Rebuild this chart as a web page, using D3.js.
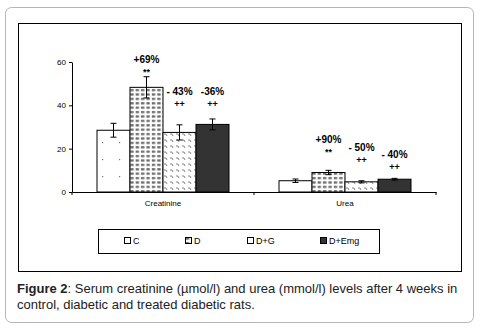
<!DOCTYPE html>
<html>
<head>
<meta charset="utf-8">
<script src="https://cdn.jsdelivr.net/npm/d3@7"></script>
<style>
  body { margin: 0; background: #fff; }
  svg { display: block; font-family: "Liberation Sans", Arial, sans-serif; }
</style>
</head>
<body>
<svg id="chart" width="480" height="328"></svg>
<script>
const groups = ["Creatinine", "Urea"];
const treatments = ["C", "D", "D+G", "D+Emg"];
const creatinine = [28.5, 48.3, 27.5, 31.2];
const creatinineErr = [3.2, 4.9, 3.5, 2.5];
const urea = [5.2, 9.0, 4.7, 5.9];
const ureaErr = [0.8, 1.0, 0.5, 0.4];
const creatinineNotes = [null, ["+69%", "**"], ["- 43%", "++"], ["-36%", "++"]];
const ureaNotes = [null, ["+90%", "**"], ["- 50%", "++"], ["- 40%", "++"]];
const yTicks = [0, 20, 40, 60];

(function() {
  const INK = "#000";
  const svg = d3.select("#chart");

  // patterns
  const defs = svg.append("defs");
  const pC = defs.append("pattern").attr("id", "pat-C").attr("patternUnits", "userSpaceOnUse")
    .attr("width", 17).attr("height", 17);
  pC.append("rect").attr("width", 17).attr("height", 17).attr("fill", "#fff");
  pC.append("rect").attr("x", 5).attr("y", 6).attr("width", 1.2).attr("height", 1.2).attr("fill", "#777");

  const pD = defs.append("pattern").attr("id", "pat-D").attr("patternUnits", "userSpaceOnUse")
    .attr("width", 5.4).attr("height", 4.4);
  pD.append("rect").attr("width", 5.4).attr("height", 4.4).attr("fill", "#fff");
  pD.append("rect").attr("x", 0.8).attr("y", 1).attr("width", 3.4).attr("height", 2.2).attr("fill", "#6a6a6a");

  const pG = defs.append("pattern").attr("id", "pat-G").attr("patternUnits", "userSpaceOnUse")
    .attr("width", 6).attr("height", 6);
  pG.append("rect").attr("width", 6).attr("height", 6).attr("fill", "#fff");
  pG.append("path").attr("d", "M1,2 L3,2 L4,4").attr("stroke", "#777").attr("stroke-width", 0.9).attr("fill", "none");

  const fills = ["url(#pat-C)", "url(#pat-D)", "url(#pat-G)", "#333333"];

  // outer rounded frame
  svg.append("rect").attr("x", 5.5).attr("y", 7.5).attr("width", 468).attr("height", 315)
    .attr("rx", 6).attr("fill", "#fff").attr("stroke", "#b5b5b5").attr("stroke-width", 1);

  // chart frame
  svg.append("rect").attr("x", 18.5).attr("y", 23.5).attr("width", 443).attr("height", 248)
    .attr("fill", "#fff").attr("stroke", INK).attr("stroke-width", 1);

  const x0 = d3.scaleBand().domain(groups).range([72, 436]);
  const x1 = d3.scaleBand().domain(treatments).range([0, 132]);
  const y = d3.scaleLinear().domain([0, 60]).range([192, 62]);
  const off = (x0.bandwidth() - x1.range()[1]) / 2;

  // y axis
  svg.append("g").attr("transform", "translate(72,0)")
    .call(d3.axisLeft(y).tickValues(yTicks).tickSize(3).tickSizeOuter(0))
    .call(g => g.select(".domain").attr("stroke", INK))
    .call(g => g.selectAll("text").attr("font-size", 8).attr("font-family", "Liberation Sans, Arial").attr("fill", INK));

  // x axis
  svg.append("g").attr("transform", "translate(0,192)")
    .call(d3.axisBottom(x0).tickSize(0).tickFormat(""))
    .call(g => g.select(".domain").attr("stroke", INK));
  svg.append("g").selectAll("line").data([72, 254, 436]).join("line")
    .attr("x1", d => d).attr("x2", d => d).attr("y1", 192).attr("y2", 195).attr("stroke", INK);

  svg.append("g").selectAll("text").data(groups).join("text")
    .attr("x", d => x0(d) + x0.bandwidth() / 2).attr("y", 206)
    .attr("text-anchor", "middle").attr("font-size", 8).attr("fill", INK).text(d => d);

  const series = [
    { group: "Creatinine", values: creatinine, err: creatinineErr, notes: creatinineNotes },
    { group: "Urea", values: urea, err: ureaErr, notes: ureaNotes }
  ];

  series.forEach(s => {
    const gx = x0(s.group) + off;
    const data = treatments.map((t, i) => ({ t, i, v: s.values[i], e: s.err[i], note: s.notes[i] }));
    const g = svg.append("g").attr("transform", `translate(${gx},0)`);

    g.selectAll("rect").data(data).join("rect")
      .attr("x", d => x1(d.t)).attr("y", d => y(d.v))
      .attr("width", x1.bandwidth()).attr("height", d => y(0) - y(d.v))
      .attr("fill", d => fills[d.i]).attr("stroke", INK).attr("stroke-width", 1);

    const eb = g.selectAll("g.err").data(data).join("g").attr("class", "err")
      .attr("transform", d => `translate(${x1(d.t) + x1.bandwidth() / 2},0)`);
    eb.append("line").attr("y1", d => y(d.v + d.e)).attr("y2", d => y(d.v - d.e))
      .attr("stroke", d => d.i === 3 ? "#000" : INK).attr("stroke-width", 1);
    eb.append("line").attr("x1", -3).attr("x2", 3).attr("y1", d => y(d.v + d.e)).attr("y2", d => y(d.v + d.e)).attr("stroke", INK);
    eb.append("line").attr("x1", -3).attr("x2", 3).attr("y1", d => y(d.v - d.e)).attr("y2", d => y(d.v - d.e)).attr("stroke", INK);

    const noted = data.filter(d => d.note);
    const bottomY = d => {
      // Creatinine D+G and D+Emg share a level; Urea notes step down
      if (s.group === "Creatinine") return d.i === 1 ? 75 : 107;
      return [0, 155, 163, 170][d.i];
    };
    const nt = g.selectAll("g.note").data(noted).join("g").attr("class", "note")
      .attr("transform", d => `translate(${x1(d.t) + x1.bandwidth() / 2},${bottomY(d)})`);
    nt.append("text").attr("y", -12).attr("text-anchor", "middle").attr("font-size", 10)
      .attr("font-weight", "bold").attr("fill", INK).text(d => d.note[0]);
    nt.append("text").attr("y", 0).attr("text-anchor", "middle").attr("font-size", 9)
      .attr("font-weight", "bold").attr("fill", INK).text(d => d.note[1]);
  });

  // legend
  svg.append("rect").attr("x", 98.5).attr("y", 229.5).attr("width", 281).attr("height", 24)
    .attr("fill", "#fff").attr("stroke", INK);
  const legX = [124, 185, 247, 320];
  const lg = svg.append("g").selectAll("g").data(treatments).join("g")
    .attr("transform", (d, i) => `translate(${legX[i]},241)`);
  lg.append("rect").attr("x", 0.5).attr("y", -3.5).attr("width", 6).attr("height", 6)
    .attr("fill", (d, i) => i === 3 ? "#333" : (i === 1 ? "url(#pat-D)" : "#fff"))
    .attr("stroke", INK);
  lg.append("text").attr("x", 9).attr("y", 3).attr("font-size", 9).attr("fill", INK).text(d => d);

  // caption
  const cap = svg.append("text").attr("x", 17).attr("y", 293).attr("font-size", 13).attr("fill", "#222");
  cap.append("tspan").attr("font-weight", "bold").text("Figure 2");
  cap.append("tspan").text(": Serum creatinine (µmol/l) and urea (mmol/l) levels after 4 weeks in");
  svg.append("text").attr("x", 17).attr("y", 309).attr("font-size", 13).attr("fill", "#222")
    .text("control, diabetic and treated diabetic rats.");
})();
</script>
</body>
</html>
